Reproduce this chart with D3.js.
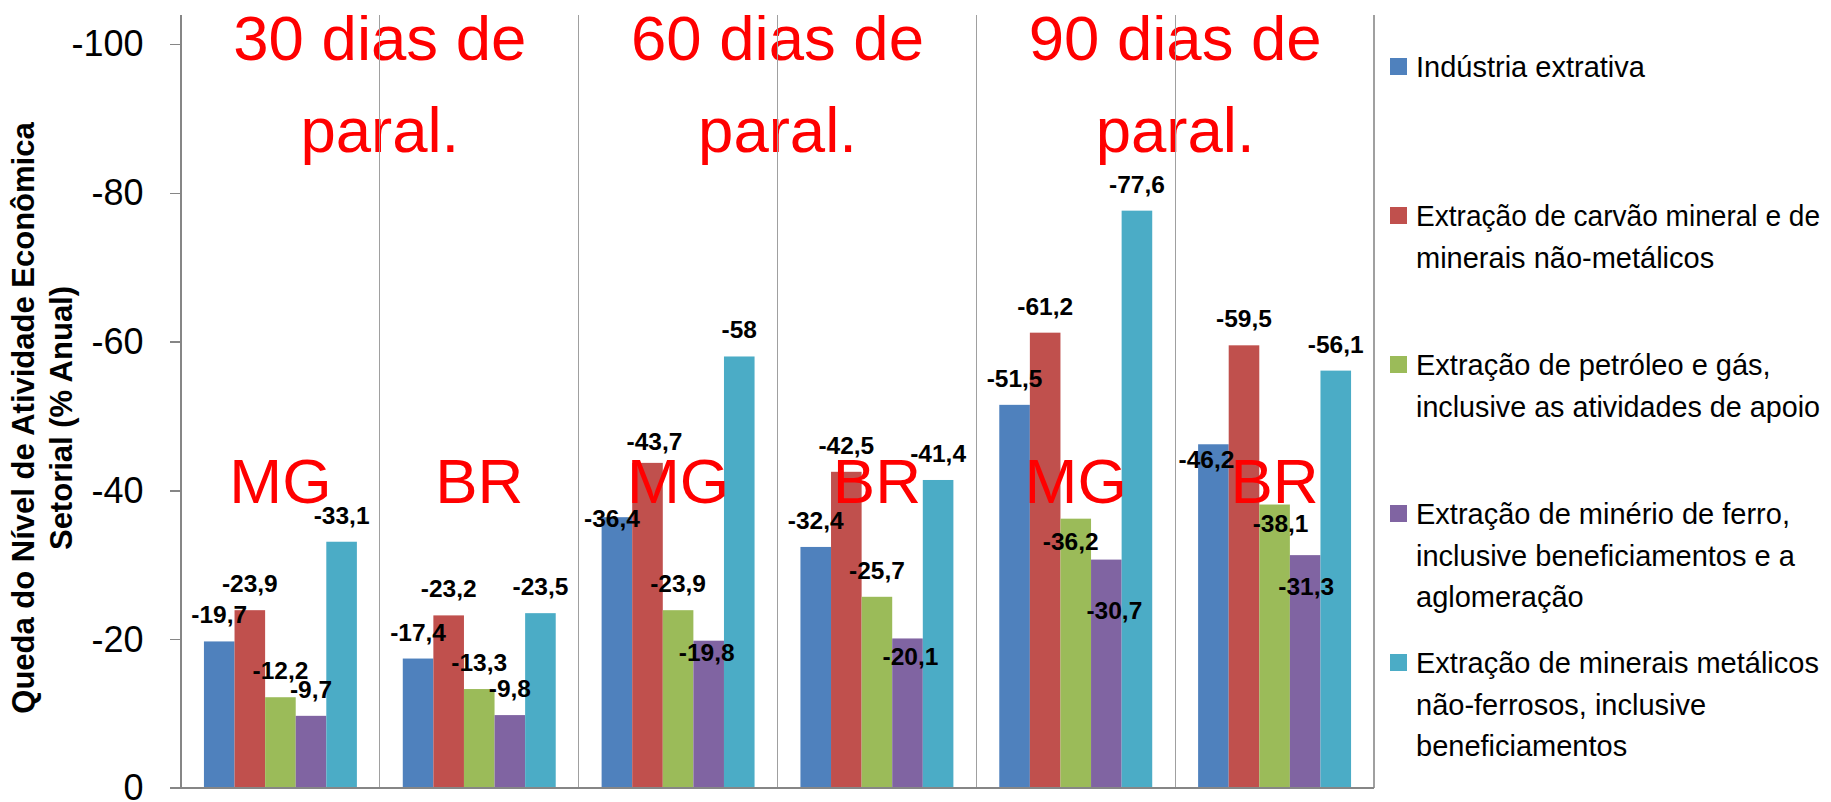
<!DOCTYPE html>
<html><head><meta charset="utf-8">
<script src="https://cdn.jsdelivr.net/npm/d3@7"></script>
<style>
body{margin:0;background:#fff}
svg{display:block}
text{font-family:"Liberation Sans",Arial,sans-serif}
</style>
</head><body>
<svg id="chart" width="1831" height="802"></svg>
<script>
// ---------- data ----------
const categories = ["MG","BR","MG","BR","MG","BR"];
const periodLines = [["30 dias de","paral."],["60 dias de","paral."],["90 dias de","paral."]];
const seriesNames = [
  "Indústria extrativa",
  "Extração de carvão mineral e de minerais não-metálicos",
  "Extração de petróleo e gás, inclusive as atividades de apoio",
  "Extração de minério de ferro, inclusive beneficiamentos e a aglomeração",
  "Extração de minerais metálicos não-ferrosos, inclusive beneficiamentos"
];
const legendLines = [
  ["Indústria extrativa"],
  ["Extração de carvão mineral e de","minerais não-metálicos"],
  ["Extração de petróleo e gás,","inclusive as atividades de apoio"],
  ["Extração de minério de ferro,","inclusive beneficiamentos e a","aglomeração"],
  ["Extração de minerais metálicos","não-ferrosos, inclusive","beneficiamentos"]
];
const industria    = [-19.7, -17.4, -36.4, -32.4, -51.5, -46.2];
const carvao       = [-23.9, -23.2, -43.7, -42.5, -61.2, -59.5];
const petroleo     = [-12.2, -13.3, -23.9, -25.7, -36.2, -38.1];
const minerioFerro = [-9.7,  -9.8,  -19.8, -20.1, -30.7, -31.3];
const metalicos    = [-33.1, -23.5, -58,   -41.4, -77.6, -56.1];
const yTicks = [0, -20, -40, -60, -80, -100];
const yTickLabels = ["0", "-20", "-40", "-60", "-80", "-100"];
const yTitleLines = ["Queda do Nível de Atividade Econômica", "Setorial (% Anual)"];

// ---------- styles ----------
const colors = ["#4F81BD", "#C0504D", "#9BBB59", "#8064A2", "#4BACC6"];
// manual label nudges [dx, dy] per series / category (as placed in the original)
const labelNudge = [
  [[0,0],[0,0],[-5,28],[0,0],[0,0],[-7,42]],
  [[0,0],[0,0],[7,5],[0,0],[0,0],[0,0]],
  [[0,0],[0,0],[0,0],[0,0],[-5,49],[6,45]],
  [[0,0],[0,0],[-2,38],[3,45],[8,77],[1,58]],
  [[0,0],[0,0],[0,0],[0,0],[0,0],[0,0]]
];

const seriesValues = [industria, carvao, petroleo, minerioFerro, metalicos];

const svg = d3.select("#chart");
const plot = {left: 181, right: 1374, top: 15, bottom: 788};

svg.append("defs").append("clipPath").attr("id","clipTop")
  .append("rect").attr("x",0).attr("y",15).attr("width",1831).attr("height",787);

const g = svg.append("g").attr("clip-path","url(#clipTop)");

const x0 = d3.scaleBand().domain(d3.range(categories.length))
  .range([plot.left, plot.right]).padding(0);
const x1 = d3.scaleBand().domain(d3.range(seriesNames.length))
  .range([0, x0.bandwidth()]).paddingInner(0).paddingOuter(0.75);
const y = d3.scaleLinear().domain([0, -100]).range([788, 44]);

// bars
const groups = g.append("g").selectAll("g").data(categories).join("g")
  .attr("transform", (d,i) => `translate(${x0(i)},0)`);
groups.selectAll("rect")
  .data((d,ci) => seriesValues.map((s,si) => ({si, ci, v: s[ci]})))
  .join("rect")
  .attr("x", d => x1(d.si))
  .attr("width", x1.bandwidth())
  .attr("y", d => y(d.v))
  .attr("height", d => y(0) - y(d.v))
  .attr("fill", d => colors[d.si]);

// period titles (centered on boundaries between MG/BR pairs)
periodLines.forEach((lines, k) => {
  const cx = x0(2*k + 1);
  lines.forEach((t, li) => {
    g.append("text").attr("x", cx).attr("y", 60 + li*92)
      .attr("text-anchor","middle").attr("fill","#FF0000")
      .attr("font-size", 63.5).text(t);
  });
});

// category labels MG / BR inside plot
g.append("g").selectAll("text").data(categories).join("text")
  .attr("x", (d,i) => x0(i) + x0.bandwidth()/2)
  .attr("y", 503)
  .attr("text-anchor","middle").attr("fill","#FF0000")
  .attr("font-size", 63.5).text(d => d);

// category separators (vertical lines)
const bounds = d3.range(categories.length + 1).map(i => i < categories.length ? x0(i) : plot.right);
g.append("g").selectAll("line").data(bounds).join("line")
  .attr("x1", d => d).attr("x2", d => d)
  .attr("y1", plot.top).attr("y2", plot.bottom)
  .attr("stroke", (d,i) => i === 0 ? "#868686" : "#A0A0A0")
  .attr("stroke-width", 1.3)
  .attr("shape-rendering","crispEdges");

// x axis line
g.append("line").attr("x1", plot.left - 11.5).attr("x2", plot.right)
  .attr("y1", y(0)).attr("y2", y(0))
  .attr("stroke", "#868686").attr("stroke-width", 1.3).attr("shape-rendering","crispEdges");

// y axis
const yAxis = d3.axisLeft(y).tickValues(yTicks)
  .tickFormat((d,i) => yTickLabels[i])
  .tickSize(11.5).tickSizeOuter(0).tickPadding(26);
const ya = svg.append("g").attr("transform", `translate(${plot.left},0)`).call(yAxis);
ya.select(".domain").remove();
ya.selectAll(".tick line").attr("stroke","#868686").attr("stroke-width",1.3).attr("shape-rendering","crispEdges");
ya.selectAll(".tick text").attr("font-size", 36).attr("fill","#000")
  .attr("font-family","'Liberation Sans',Arial,sans-serif").attr("dy","0.33em");

// data labels
const fmt = v => String(v).replace(".", ",");
groups.selectAll("text.lbl")
  .data((d,ci) => seriesValues.map((s,si) => ({si, ci, v: s[ci]})))
  .join("text").attr("class","lbl")
  .attr("x", d => x1(d.si) + x1.bandwidth()/2 + labelNudge[d.si][d.ci][0])
  .attr("y", d => y(d.v) - 18 + labelNudge[d.si][d.ci][1])
  .attr("text-anchor","middle").attr("font-size", 24.5).attr("font-weight","bold")
  .attr("fill","#000").text(d => fmt(d.v));

// y axis title
const yt = svg.append("text").attr("transform","translate(34,418) rotate(-90)")
  .attr("text-anchor","middle").attr("font-size",31).attr("font-weight","bold").attr("fill","#000");
yTitleLines.forEach((t,i) => {
  yt.append("tspan").attr("x",0).attr("y", i*38).text(t);
});

// legend
const lg = svg.append("g");
const legendTextX = 1416, legendMaxW = 404;
legendLines.forEach((lines, i) => {
  const cy = 66.5 + i*149;
  lg.append("rect").attr("x",1390).attr("y",cy-8.5).attr("width",17).attr("height",17).attr("fill",colors[i]);
  lines.forEach((t, li) => {
    const tx = lg.append("text").attr("x",legendTextX).attr("y", cy + 10.5 + li*41.5)
      .attr("font-size",29).attr("fill","#000").text(t);
    const w = tx.node().getComputedTextLength();
    if (w > legendMaxW) tx.attr("textLength", legendMaxW).attr("lengthAdjust","spacingAndGlyphs");
  });
});
</script>
</body></html>
